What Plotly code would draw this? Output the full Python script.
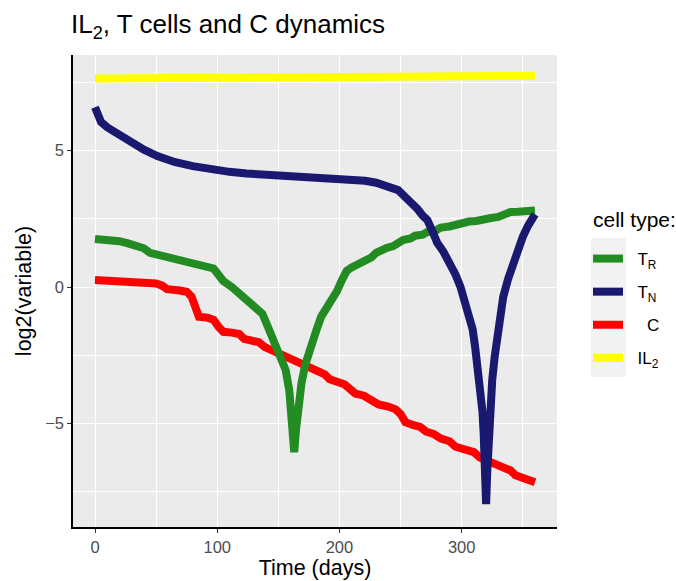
import plotly.graph_objects as go

# ---------------- data ----------------
tn_days = [0, 2, 5, 10, 15, 23, 30, 40, 51, 65, 80, 92, 110, 124, 150, 175, 191, 200,
           210, 221, 230, 237, 244, 248, 251, 254, 258, 261, 264, 268, 272, 276, 280,
           285, 291, 295, 299, 303, 306, 309, 311, 313, 315, 317, 318, 319, 320, 321,
           322, 323, 325, 327, 329, 331, 334, 338, 342, 346, 350, 354, 357, 360]
tn_vals = [6.59, 6.35, 6.04, 5.85, 5.71, 5.50, 5.30, 5.03, 4.80, 4.58, 4.43, 4.33, 4.22,
           4.16, 4.10, 4.06, 4.03, 3.99, 3.95, 3.89, 3.82, 3.74, 3.64, 3.55, 3.42, 3.30,
           3.18, 3.06, 2.85, 2.62, 2.45, 2.05, 1.62, 1.30, 0.87, 0.45, 0.01, -0.55,
           -0.96, -1.55, -2.19, -2.85, -3.65, -4.55, -5.36, -6.60, -7.95, -6.70, -5.36,
           -4.70, -3.41, -2.55, -1.82, -1.20, -0.36, 0.30, 0.87, 1.40, 1.84, 2.22, 2.52,
           2.66]

tr_days = [0, 10, 20, 27, 33, 40, 45, 52, 57, 63, 70, 77, 83, 90, 97, 101, 105, 112,
           118, 124, 129, 134, 137, 140, 143, 147, 151, 156, 159, 161, 163, 164.5, 166.5,
           169, 172, 177, 181, 185, 190, 194, 198, 202, 206, 210, 214, 218, 222, 226, 230,
           234, 238, 244, 248, 252, 258, 262, 268, 272, 278, 283, 290, 296, 300, 306, 312,
           318, 324, 330, 336, 340, 346, 352, 357, 360]
tr_vals = [1.76, 1.74, 1.68, 1.60, 1.55, 1.42, 1.25, 1.18, 1.10, 1.02, 0.93, 0.88, 0.81,
           0.76, 0.68, 0.45, 0.22, 0.00, -0.22, -0.45, -0.62, -0.82, -0.98, -1.30, -1.62,
           -1.95, -2.35, -3.04, -3.80, -4.60, -6.05, -5.20, -4.30, -3.50, -2.85, -2.06,
           -1.60, -1.09, -0.75, -0.45, -0.15, 0.25, 0.60, 0.72, 0.80, 0.95, 1.02, 1.08,
           1.25, 1.38, 1.42, 1.50, 1.65, 1.72, 1.78, 1.88, 1.92, 2.02, 2.05, 2.18, 2.22,
           2.30, 2.38, 2.40, 2.42, 2.50, 2.53, 2.57, 2.66, 2.75, 2.76, 2.78, 2.82, 2.80]

c_days = [0, 10, 23, 40, 50, 55, 59, 68, 75, 79, 82, 85, 92, 97, 101, 105, 112, 118,
          122, 126, 134, 139, 143, 150, 157, 162, 168, 172, 178, 184, 188, 192, 197, 204,
          209, 213, 220, 226, 232, 240, 246, 250, 254, 260, 266, 271, 277, 283, 290, 295,
          303, 310, 315, 321, 327, 333, 340, 344, 350, 355, 360]
c_vals = [0.26, 0.24, 0.19, 0.16, 0.13, 0.05, -0.08, -0.12, -0.17, -0.35, -0.75, -1.09,
          -1.12, -1.20, -1.45, -1.64, -1.67, -1.72, -1.90, -1.96, -2.02, -2.20, -2.28,
          -2.38, -2.55, -2.64, -2.76, -2.85, -2.95, -3.05, -3.20, -3.38, -3.45, -3.56,
          -3.75, -3.90, -3.98, -4.15, -4.30, -4.38, -4.48, -4.65, -4.95, -5.05, -5.12,
          -5.30, -5.38, -5.55, -5.65, -5.85, -5.95, -6.05, -6.25, -6.35, -6.50, -6.62,
          -6.72, -6.90, -6.98, -7.05, -7.15]

il2_days = [0, 90, 180, 270, 360]
il2_vals = [7.64, 7.67, 7.69, 7.72, 7.74]

series_names = ["\u00a0\u00a0T<sub>R</sub>", "\u00a0\u00a0T<sub>N</sub>",
                "\u00a0\u00a0\u00a0\u00a0C", "\u00a0\u00a0IL<sub>2</sub>"]
series_colors = ["#228B22", "#191970", "#FF0000", "#FFFF00"]
legend_title = "cell type:"

x_ticks = [0, 100, 200, 300]
y_ticks = [-5, 0, 5]

# ---------------- figure ----------------
fig = go.Figure()
data = {
    0: (tr_days, tr_vals),
    1: (tn_days, tn_vals),
    2: (c_days, c_vals),
    3: (il2_days, il2_vals),
}
draw_order = [3, 2, 0, 1]
for i in draw_order:
    xs, ys = data[i]
    fig.add_trace(go.Scatter(
        x=xs, y=ys, mode="lines", name=series_names[i],
        line=dict(color=series_colors[i], width=8),
        legendrank=i + 1, legendgroup=str(i),
    ))

W, H = 676, 581
font_family = "Liberation Sans, Arial, sans-serif"
fig.update_layout(
    width=W, height=H,
    margin=dict(l=73, r=119, t=55, b=54, autoexpand=False),
    paper_bgcolor="white",
    plot_bgcolor="#EBEBEB",
    font=dict(family=font_family, color="black"),
    title=dict(text="IL<sub>2</sub>, T cells and C dynamics",
               x=71 / W, xref="container", xanchor="left",
               y=1 - 24 / H, yref="container", yanchor="middle",
               font=dict(size=26, color="black")),
    showlegend=True,
    legend=dict(
        xref="container", yref="container",
        x=588 / W, xanchor="left", y=1 - 241 / H, yanchor="top",
        bgcolor="rgba(0,0,0,0)",
        font=dict(size=17),
        tracegroupgap=8,
        traceorder="grouped",
    ),
    annotations=[dict(text=legend_title, xref="paper", yref="paper",
                      x=(591 - 73) / 484, y=(527 - 220) / 472,
                      xanchor="left", yanchor="middle", showarrow=False,
                      font=dict(size=21, color="black"))],
    shapes=[dict(type="rect", xref="paper", yref="paper",
                 x0=(591 - 73) / 484, x1=(626 - 73) / 484,
                 y0=(527 - 377) / 472, y1=(527 - 238) / 472,
                 fillcolor="#F2F2F2", line=dict(width=0), layer="below")],
)

fig.update_xaxes(
    range=[-18, 378], tickvals=x_ticks, ticks="outside", ticklen=4,
    tickcolor="#333333", tickfont=dict(size=16.5, color="#4D4D4D"),
    showgrid=True, gridcolor="white", gridwidth=1.2, zeroline=False,
    showline=True, linecolor="black", linewidth=1.5, automargin=False,
    minor=dict(tickvals=[50, 150, 250, 350], showgrid=True,
               gridcolor="white", gridwidth=0.6, ticks=""),
    title=dict(text="Time (days)", font=dict(size=21.5), standoff=3),
)
fig.update_yaxes(
    range=[-8.79, 8.50], tickvals=y_ticks, ticks="outside", ticklen=4,
    tickcolor="#333333", tickfont=dict(size=16.5, color="#4D4D4D"),
    showgrid=True, gridcolor="white", gridwidth=1.2, zeroline=False,
    showline=True, linecolor="black", linewidth=1.5, automargin=False,
    minor=dict(tickvals=[-7.5, -2.5, 2.5, 7.5], showgrid=True,
               gridcolor="white", gridwidth=0.6, ticks=""),
    title=dict(text="log2(variable)", font=dict(size=21.5), standoff=8),
)

fig.write_html("out.html")
